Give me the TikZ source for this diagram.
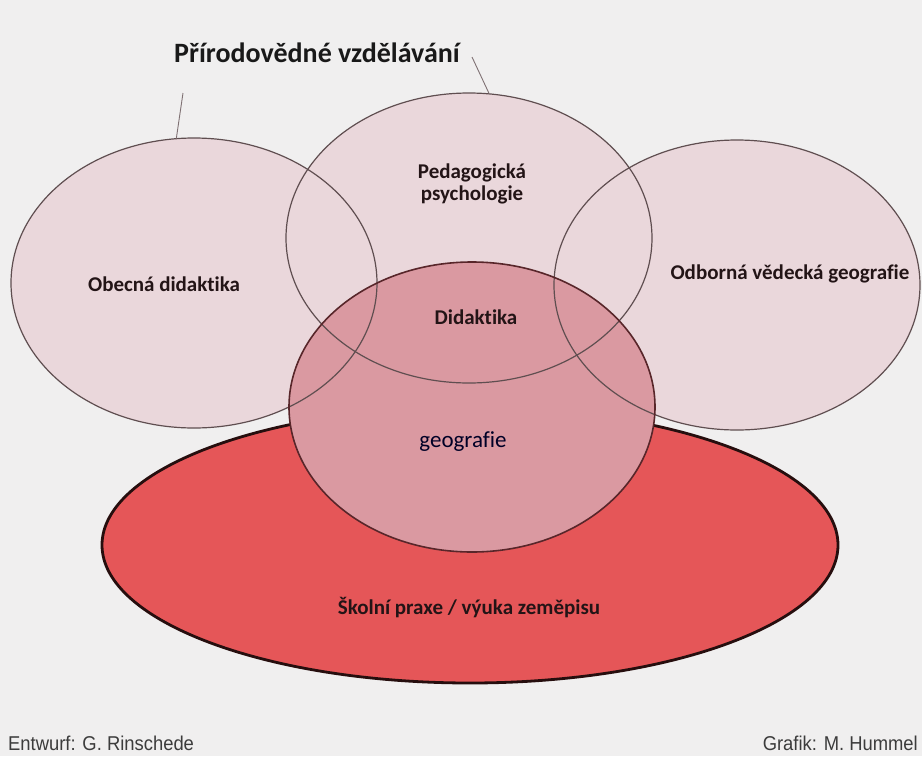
\documentclass[tikz,border=0pt]{standalone}
\usepackage{fontspec}
\setmainfont{Carlito}[Ligatures=NoCommon]
\newfontfamily\footfont{Liberation Sans}[FakeStretch=0.92]
\usetikzlibrary{shapes.geometric}
\definecolor{bgc}{RGB}{240,239,239}
\definecolor{pinkc}{RGB}{234,215,219}
\definecolor{midc}{RGB}{218,153,161}
\definecolor{redc}{RGB}{229,86,88}
\definecolor{outl}{RGB}{95,78,80}
\definecolor{midl}{RGB}{88,38,42}
\definecolor{redl}{RGB}{38,14,14}
\definecolor{txt}{RGB}{35,20,22}
\definecolor{foot}{RGB}{60,60,60}
\begin{document}
\begin{tikzpicture}[x=1pt,y=-1pt,
  blob/.style={ellipse, inner sep=0pt, outer sep=0pt, minimum width=366pt, minimum height=290pt},
  outline/.style={draw=outl, line width=1.2pt},
  conn/.style={draw=outl!80, line width=0.9pt},
  lbl/.style={font=\fontsize{21}{22}\selectfont\bfseries, text=txt, align=center, inner sep=0pt},
  foottxt/.style={font=\footfont\fontsize{20}{21}\selectfont, text=foot, inner sep=0pt},
]
\fill[bgc] (0,0) rectangle (922,756);
\useasboundingbox (0,0) rectangle (922,756);

% outer ellipses (fills)
\node[blob, fill=pinkc] (lefte) at (194,283) {};
\node[blob, fill=pinkc] (tope) at (469,238) {};
\node[blob, fill=pinkc] (righte) at (737,285) {};

% school practice ellipse
\node[ellipse, inner sep=0pt, outer sep=0pt, minimum width=736pt, minimum height=276pt,
      fill=redc, draw=redl, line width=2.8pt] (rede) at (470,545) {};

% central circle fill
\node[blob, fill=midc] (mide) at (472,407) {};

% outlines on top
\draw[outline] (lefte.center) ellipse [x radius=183, y radius=145];
\draw[outline] (tope.center) ellipse [x radius=183, y radius=145];
\draw[outline] (righte.center) ellipse [x radius=183, y radius=145];
\draw[draw=midl, line width=1.6pt] (mide.center) ellipse [x radius=183, y radius=145];

% title and its connectors
\node[font=\fontsize{28}{30}\selectfont\bfseries, text=black!90, inner sep=0pt, anchor=base] (title) at (317,62) {Přírodovědné vzdělávání};
\coordinate (c1) at (183,93);
\coordinate (c2) at (472,57);
\draw[conn] (c1) -- (lefte.97);
\draw[conn] (c2) -- (tope.82);

% labels
\node[lbl] (lped) at (472,184) {Pedagogická\\psychologie};
\node[lbl, anchor=base] (lobe) at (164,291) {Obecná didaktika};
\node[lbl, anchor=base] (lodb) at (790,279) {Odborná vědecká geografie};
\node[lbl, anchor=base] (ldid) at (476,324) {Didaktika};
\node[font=\fontsize{23}{24}\selectfont, text=black!85!blue, inner sep=0pt, anchor=base] (lgeo) at (463,447) {geografie};
\node[lbl, anchor=base] (lsko) at (469,614) {Školní praxe / výuka zeměpisu};

% credits
\node[foottxt, anchor=base west] (ent) at (8,750) {Entwurf: G. Rinschede};
\node[foottxt, anchor=base east] (gra) at (918,750) {Grafik: M. Hummel};
\end{tikzpicture}
\end{document}
